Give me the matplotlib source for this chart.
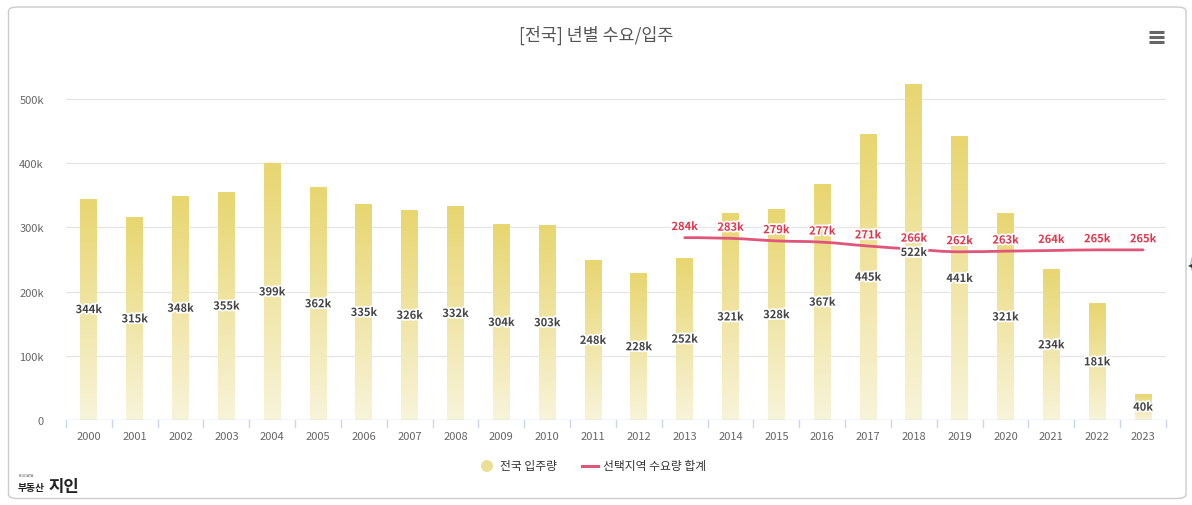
import numpy as np
import matplotlib
matplotlib.use("Agg")
import matplotlib.pyplot as plt
from matplotlib.path import Path
from matplotlib.patches import PathPatch, FancyBboxPatch, Ellipse
import matplotlib.patheffects as pe
from matplotlib.lines import Line2D

plt.rcParams['font.family'] = ['Noto Sans CJK KR', 'DejaVu Sans']

years = [str(y) for y in range(2000, 2024)]
supply = [344, 315, 348, 355, 399, 362, 335, 326, 332, 304, 303, 248,
          228, 252, 321, 328, 367, 445, 522, 441, 321, 234, 181, 40]
demand_years = [str(y) for y in range(2013, 2024)]
demand = [284, 283, 279, 277, 271, 266, 262, 263, 264, 265, 265]
yticks = [0, 100, 200, 300, 400, 500]
ytick_labels = ['0', '100k', '200k', '300k', '400k', '500k']
title = '[전국] 년별 수요/입주'
legend_labels = ['전국 입주량', '선택지역 수요량 합계']

W, H = 1192, 506
fig = plt.figure(figsize=(W / 100, H / 100), dpi=100)
fig.patch.set_facecolor('white')

# outer rounded border
border = FancyBboxPatch((8.5 / W, 6.5 / H), (1186 - 8.5) / W, (498 - 6.5) / H,
                        boxstyle='round,pad=0,rounding_size=0.008',
                        transform=fig.transFigure, facecolor='none',
                        edgecolor='#cccccc', linewidth=1.0, zorder=0)
fig.patches.append(border)

px100k = (421 - 100) / 5.0
ymax = 560
top_px = 421 - ymax / 100 * px100k
ax = fig.add_axes([66 / W, (H - 421) / H, 1100 / W, (421 - top_px) / H])
for s in ax.spines.values():
    s.set_visible(False)
ax.set_facecolor('none')

# grid
for yv in yticks[1:]:
    ax.axhline(yv, color='#e6e6e6', linewidth=1.0, zorder=0)
ax.axhline(0, color='#ccd6eb', linewidth=1.0, zorder=3)

ax.set_yticks(yticks)
ax.set_yticklabels(ytick_labels)
ax.tick_params(axis='y', length=0, pad=16, labelsize=8, labelcolor='#666666')
ax.set_xticks(range(len(years)))
ax.set_xticklabels(years)
ax.tick_params(axis='x', length=0, pad=8, labelsize=8, labelcolor='#666666')
# category boundary ticks
for b in np.arange(-0.5, len(years), 1.0):
    ax.plot([b, b], [0, -7 / px100k * 100], color='#ccd6eb', linewidth=1.0,
            clip_on=False, zorder=3)

# gradient bars
top_c = np.array([232, 214, 112]) / 255.0
bot_c = np.array([248, 244, 218]) / 255.0
grad = np.linspace(0, 1, 256)[:, None, None]
grad_img = top_c * (1 - grad) + bot_c * grad
bw = 17 / (1100 / len(years))
xs = np.arange(len(years))
for x, v in zip(xs, supply):
    ax.imshow(grad_img, extent=[x - bw / 2, x + bw / 2, 0, v], aspect='auto',
              origin='upper', zorder=2, interpolation='bilinear')
    ax.text(x, v / 2, f'{v}k', ha='center', va='center', fontsize=8,
            fontweight='bold', color='#444444', zorder=6,
            path_effects=[pe.withStroke(linewidth=2.5, foreground='white')])
ax.set_xlim(-0.5, len(years) - 0.5)
ax.set_ylim(0, ymax)

# spline line (Highcharts-like)
dx = np.array([years.index(y) for y in demand_years], dtype=float)
dy = np.array(demand, dtype=float)
n = len(dx)
lc = [None] * n
rc = [None] * n
sm = 1.5
den = sm + 1
for i in range(1, n - 1):
    lx = (sm * dx[i] + dx[i - 1]) / den
    ly = (sm * dy[i] + dy[i - 1]) / den
    rx = (sm * dx[i] + dx[i + 1]) / den
    ry = (sm * dy[i] + dy[i + 1]) / den
    if rx != lx:
        corr = ((ry - ly) * (rx - dx[i])) / (rx - lx) + dy[i] - ry
        ly += corr
        ry += corr
    if ly > max(dy[i - 1], dy[i]):
        ly = max(dy[i - 1], dy[i]); ry = 2 * dy[i] - ly
    elif ly < min(dy[i - 1], dy[i]):
        ly = min(dy[i - 1], dy[i]); ry = 2 * dy[i] - ly
    if ry > max(dy[i + 1], dy[i]):
        ry = max(dy[i + 1], dy[i]); ly = 2 * dy[i] - ry
    elif ry < min(dy[i + 1], dy[i]):
        ry = min(dy[i + 1], dy[i]); ly = 2 * dy[i] - ry
    lc[i] = (lx, ly)
    rc[i] = (rx, ry)
verts = [(dx[0], dy[0])]
codes = [Path.MOVETO]
for i in range(1, n):
    c1 = rc[i - 1] if rc[i - 1] is not None else (dx[i - 1], dy[i - 1])
    c2 = lc[i] if lc[i] is not None else (dx[i], dy[i])
    verts += [c1, c2, (dx[i], dy[i])]
    codes += [Path.CURVE4] * 3
line_color = '#e0557a'
ax.add_patch(PathPatch(Path(verts, codes), facecolor='none', edgecolor=line_color,
                       linewidth=2.0, zorder=5, capstyle='round'))
for x, v in zip(dx, demand):
    ax.annotate(f'{v}k', (x, v), xytext=(0, 8), textcoords='offset points',
                ha='center', va='center', fontsize=8, fontweight='bold',
                color='#e8334a', zorder=7,
                path_effects=[pe.withStroke(linewidth=2.5, foreground='white')])

# title
fig.text(596 / W, 1 - 35 / H, title, ha='center', va='center', fontsize=12.5,
         color='#555555')

# menu icon
for yy in (33, 38, 43):
    fig.add_artist(Line2D([1149 / W, 1164 / W], [1 - yy / H, 1 - yy / H],
                          color='#666666', linewidth=2.2, solid_capstyle='butt'))

# nav circle at right edge
circ = Ellipse((1208 / W, 1 - 265 / H), 34 / W, 34 / H,
               transform=fig.transFigure, facecolor='white',
               edgecolor='#b8bfcc', linewidth=1.0)
fig.add_artist(circ)
fig.text(1190 / W, 1 - 265 / H, '◂', ha='center', va='center', fontsize=6,
         color='#333333', family=['DejaVu Sans'])

# legend
leg_dot = Ellipse((487 / W, 1 - 467 / H), 12 / W, 12 / H,
                  transform=fig.transFigure, facecolor='#ecdf95', edgecolor='none')
fig.add_artist(leg_dot)
fig.text(500 / W, 1 - 467 / H, legend_labels[0], ha='left', va='center',
         fontsize=8.5, color='#333333', fontweight='medium')
fig.add_artist(Line2D([582 / W, 598 / W], [1 - 467 / H, 1 - 467 / H],
                      color=line_color, linewidth=2.2))
fig.text(603 / W, 1 - 467 / H, legend_labels[1], ha='left', va='center',
         fontsize=8.5, color='#333333', fontweight='medium')

# logo
fig.text(19 / W, 1 - 476 / H, 'BIGDATA', ha='left', va='center', fontsize=2.5,
         color='#555555', family=['DejaVu Sans'])
fig.text(18 / W, 1 - 488 / H, '부동산', ha='left', va='center', fontsize=7,
         color='#222222', fontweight='bold')
fig.text(48 / W, 1 - 487 / H, '지인', ha='left', va='center', fontsize=12,
         color='#222222', fontweight='bold')

fig.savefig('out.png', dpi=100, facecolor='white')
